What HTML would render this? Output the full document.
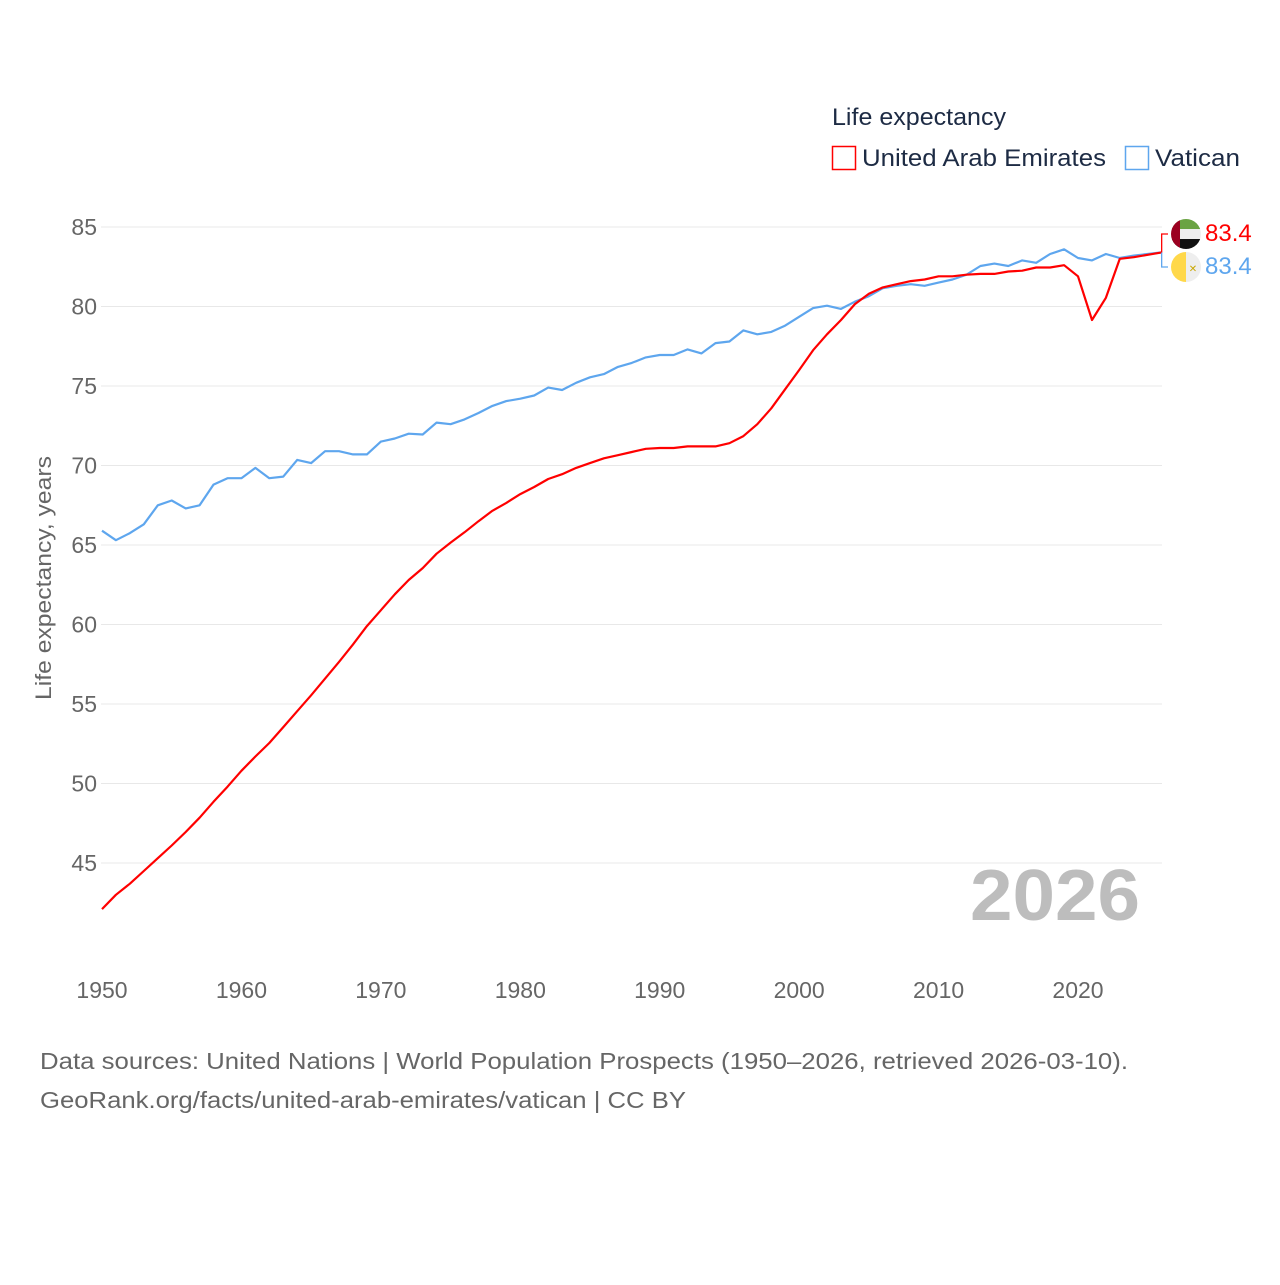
<!DOCTYPE html>
<html><head><meta charset="utf-8"><style>
html,body{margin:0;padding:0;background:#fff;}
body{width:1280px;height:1280px;overflow:hidden;font-family:"Liberation Sans",sans-serif;}
svg text{font-family:"Liberation Sans",sans-serif;}
</style></head><body>
<svg id="chart" width="1280" height="1280" viewBox="0 0 1280 1280" xmlns="http://www.w3.org/2000/svg">
<text x="832" y="125" font-size="24" fill="#1d2b44" textLength="174" lengthAdjust="spacingAndGlyphs">Life expectancy</text>
<g><rect x="832.5" y="146.5" width="23" height="23" fill="none" stroke="#ff0000" stroke-width="1.5"/><text x="862" y="166" font-size="24" fill="#1d2b44" textLength="244" lengthAdjust="spacingAndGlyphs">United Arab Emirates</text></g>
<g><rect x="1125.5" y="146.5" width="23" height="23" fill="none" stroke="#5ea6ee" stroke-width="1.5"/><text x="1155" y="166" font-size="24" fill="#1d2b44" textLength="85" lengthAdjust="spacingAndGlyphs">Vatican</text></g>
<g id="grid"></g>
<g id="yticks"></g>
<g id="xticks"></g>
<text transform="translate(51,578) rotate(-90)" text-anchor="middle" font-size="22" fill="#666" textLength="244" lengthAdjust="spacingAndGlyphs">Life expectancy, years</text>
<text x="1140" y="920" text-anchor="end" font-size="72" font-weight="bold" fill="#bdbdbd" textLength="170" lengthAdjust="spacingAndGlyphs">2026</text>
<g id="series"></g>
<g id="endlabels"></g>
<text x="40" y="1069" font-size="23" fill="#666" textLength="1088" lengthAdjust="spacingAndGlyphs">Data sources: United Nations | World Population Prospects (1950–2026, retrieved 2026-03-10).</text>
<text x="40" y="1108" font-size="23" fill="#666" textLength="646" lengthAdjust="spacingAndGlyphs">GeoRank.org/facts/united-arab-emirates/vatican | CC BY</text>
</svg>
<script>
const years = [];
for (let y = 1950; y <= 2026; y++) years.push(y);
const uae = [42.1,43.0,43.7,44.5,45.3,46.1,46.95,47.85,48.85,49.8,50.8,51.7,52.55,53.55,54.55,55.55,56.6,57.65,58.75,59.9,60.9,61.9,62.8,63.55,64.45,65.15,65.8,66.5,67.15,67.65,68.2,68.65,69.15,69.45,69.85,70.15,70.45,70.65,70.85,71.05,71.1,71.1,71.2,71.2,71.2,71.4,71.85,72.6,73.6,74.8,76.0,77.25,78.25,79.15,80.15,80.8,81.2,81.4,81.6,81.7,81.9,81.9,82.0,82.05,82.05,82.2,82.25,82.45,82.45,82.6,81.9,79.15,80.55,83.0,83.1,83.25,83.4];
const vatican = [65.9,65.3,65.75,66.3,67.5,67.8,67.3,67.5,68.8,69.2,69.2,69.85,69.2,69.3,70.35,70.15,70.9,70.9,70.7,70.7,71.5,71.7,72.0,71.95,72.7,72.6,72.9,73.3,73.75,74.05,74.2,74.4,74.9,74.75,75.2,75.55,75.75,76.2,76.45,76.8,76.95,76.95,77.3,77.05,77.7,77.8,78.5,78.25,78.4,78.8,79.35,79.9,80.05,79.85,80.3,80.65,81.15,81.3,81.4,81.3,81.5,81.7,82.0,82.55,82.7,82.55,82.9,82.75,83.3,83.6,83.05,82.9,83.3,83.05,83.2,83.3,83.4];
const yTicks = [45,50,55,60,65,70,75,80,85];
const xTicks = [1950,1960,1970,1980,1990,2000,2010,2020];
const uaeLabel = "83.4", vatLabel = "83.4";

const NS = "http://www.w3.org/2000/svg";
const X = yr => 102 + (yr - 1950) * 13.943;
const Y = v => 227 + (85 - v) * 15.9;
function mk(tag, attrs, parent, txt){const e=document.createElementNS(NS,tag);for(const k in attrs)e.setAttribute(k,attrs[k]);if(txt!==undefined)e.textContent=txt;parent.appendChild(e);return e;}
const grid=document.getElementById('grid'), yt=document.getElementById('yticks'), xt=document.getElementById('xticks');
yTicks.forEach(t=>{
  const l=mk('line',{x1:101,x2:1162,y1:Y(t),y2:Y(t),stroke:'#e8e8e8','stroke-width':1},grid);
  
  
  const tx=mk('text',{x:97,y:Y(t)+8,'text-anchor':'end','font-size':23,fill:'#666'},yt,String(t));
  
  
});
xTicks.forEach(t=>{
  const tx=mk('text',{x:X(t),y:998,'text-anchor':'middle','font-size':23,fill:'#666'},xt,String(t));
  
  
});
const s=document.getElementById('series');
function line(vals,color,name){
  const d=vals.map((v,i)=>(i?'L':'M')+X(years[i]).toFixed(1)+','+Y(v).toFixed(1)).join(' ');
  const p=mk('path',{d:d,fill:'none',stroke:color,'stroke-width':2.2,'stroke-linejoin':'round'},s);
  
  
}
line(vatican,'#5ea6ee','line-vatican');
line(uae,'#ff0000','line-uae');
const el=document.getElementById('endlabels');
const ex=X(years[years.length-1]);
const ey1=Y(uae[uae.length-1]), ey2=Y(vatican[vatican.length-1]);
const c1=mk('path',{d:`M${ex},${ey1} L${ex},234 L1168,234`,fill:'none',stroke:'#ff0000','stroke-width':1.3},el);


const c2=mk('path',{d:`M${ex},${ey2} L${ex},267 L1168,267`,fill:'none',stroke:'#5ea6ee','stroke-width':1.3},el);


const f1=mk('g',{},el);


mk('clipPath',{id:'cp1'},f1).appendChild(document.createElementNS(NS,'circle'));
const cc1=f1.querySelector('circle');cc1.setAttribute('cx',1186);cc1.setAttribute('cy',234);cc1.setAttribute('r',15);
const g1=mk('g',{'clip-path':'url(#cp1)'},f1);
mk('rect',{x:1171,y:219,width:30,height:10,fill:'#6aa343'},g1);
mk('rect',{x:1171,y:229,width:30,height:10,fill:'#eeeeee'},g1);
mk('rect',{x:1171,y:239,width:30,height:10,fill:'#111'},g1);
mk('rect',{x:1171,y:219,width:9,height:30,fill:'#9b0020'},g1);
const f2=mk('g',{},el);


mk('path',{d:'M1186,252 A15,15 0 0 0 1186,282 Z',fill:'#ffd84a'},f2);
mk('path',{d:'M1186,252 A15,15 0 0 1 1186,282 Z',fill:'#eeeeee'},f2);
mk('text',{x:1193,y:272,'text-anchor':'middle','font-size':10,fill:'#c9a600'},f2,'✕');
const t1=mk('text',{x:1205,y:241,'font-size':24,fill:'#ff0000'},el,uaeLabel);


const t2=mk('text',{x:1205,y:274,'font-size':24,fill:'#5ea6ee'},el,vatLabel);


</script>
</body></html>
